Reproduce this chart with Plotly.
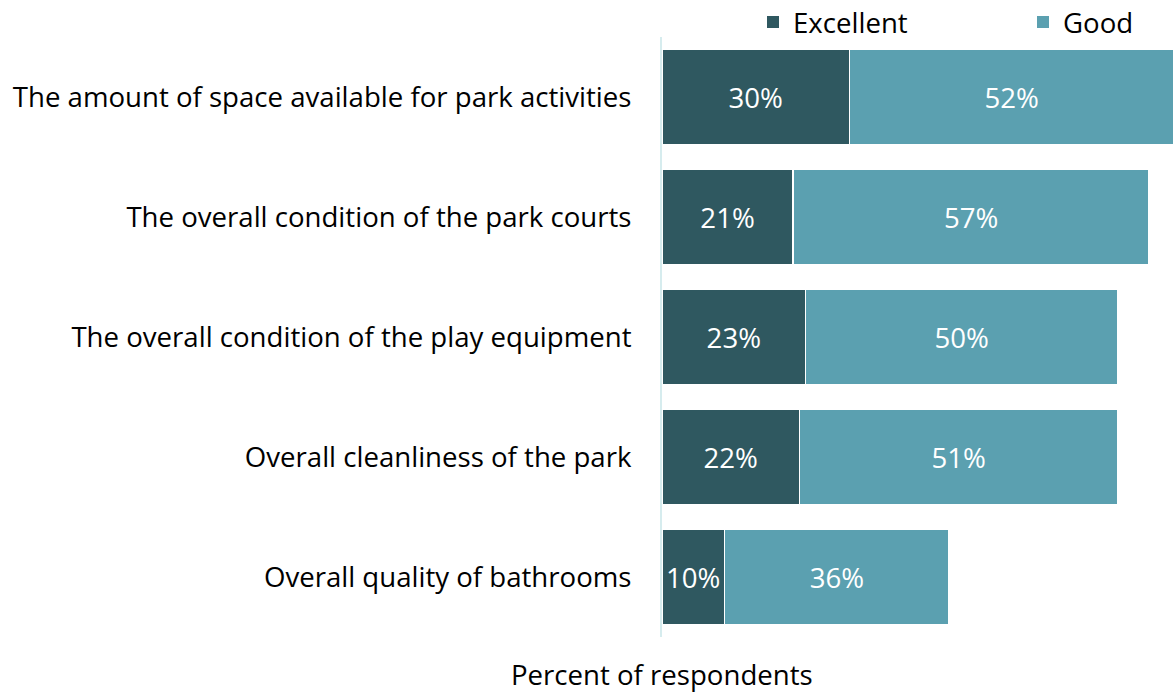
import plotly.graph_objects as go

categories = [
    "The amount of space available for park activities",
    "The overall condition of the park courts",
    "The overall condition of the play equipment",
    "Overall cleanliness of the park",
    "Overall quality of bathrooms",
]
series_names = ["Excellent", "Good"]
excellent = [30, 21, 23, 22, 10]
good = [52, 57, 50, 51, 36]

DARK = "#2F5860"
LIGHT = "#5BA0B0"
FONT = "Open Sans"
FS = 27.6

fig = go.Figure()
for name, vals, col, lg in [(series_names[0], excellent, DARK, "legend"),
                            (series_names[1], good, LIGHT, "legend2")]:
    fig.add_trace(go.Bar(
        y=categories, x=vals, name=name, orientation="h",
        marker=dict(color=col, line=dict(color="white", width=1.5)),
        text=[f"{v}%" for v in vals], textposition="inside",
        insidetextanchor="middle", textfont=dict(color="white", size=FS, family=FONT),
        showlegend=False, hoverinfo="skip",
    ))
    # legend-only entry with a full-size square swatch
    fig.add_trace(go.Scatter(
        x=[None], y=[None], mode="markers", name=name,
        marker=dict(symbol="square", size=12, color=col),
        legend=lg, showlegend=True,
    ))

legend_common = dict(
    orientation="h", xanchor="left",
    yref="container", y=1 - 22 / 692, yanchor="middle",
    font=dict(size=FS, family=FONT, color="black"),
    itemclick=False, itemdoubleclick=False,
    bgcolor="rgba(0,0,0,0)", borderwidth=0,
)

fig.update_layout(
    width=1176, height=692,
    barmode="stack", bargap=0.2,
    plot_bgcolor="white", paper_bgcolor="white",
    margin=dict(l=662, r=2, t=37, b=55, autoexpand=False),
    font=dict(family=FONT, size=FS, color="black"),
    uniformtext=dict(mode="show", minsize=10),
    showlegend=True,
    legend=dict(xref="container", x=753 / 1176, **legend_common),
    legend2=dict(xref="container", x=1023 / 1176, **legend_common),
    xaxis=dict(range=[0, 82], showgrid=False, zeroline=False, showticklabels=False,
               showline=False, fixedrange=True),
    yaxis=dict(autorange="reversed", showgrid=False, zeroline=False,
               showline=True, linecolor="#D6ECEE", linewidth=2,
               ticks="", ticklabelstandoff=23, fixedrange=True,
               tickfont=dict(size=FS, family=FONT, color="black")),
    annotations=[dict(
        text="Percent of respondents", x=0, xref="paper", xanchor="center",
        y=-37 / 600, yref="paper", yanchor="middle", showarrow=False,
        font=dict(size=FS, family=FONT, color="black"),
    )],
)

fig.write_html("out.html", config={"displayModeBar": False},
               post_script="document.body.style.margin='0px';")
